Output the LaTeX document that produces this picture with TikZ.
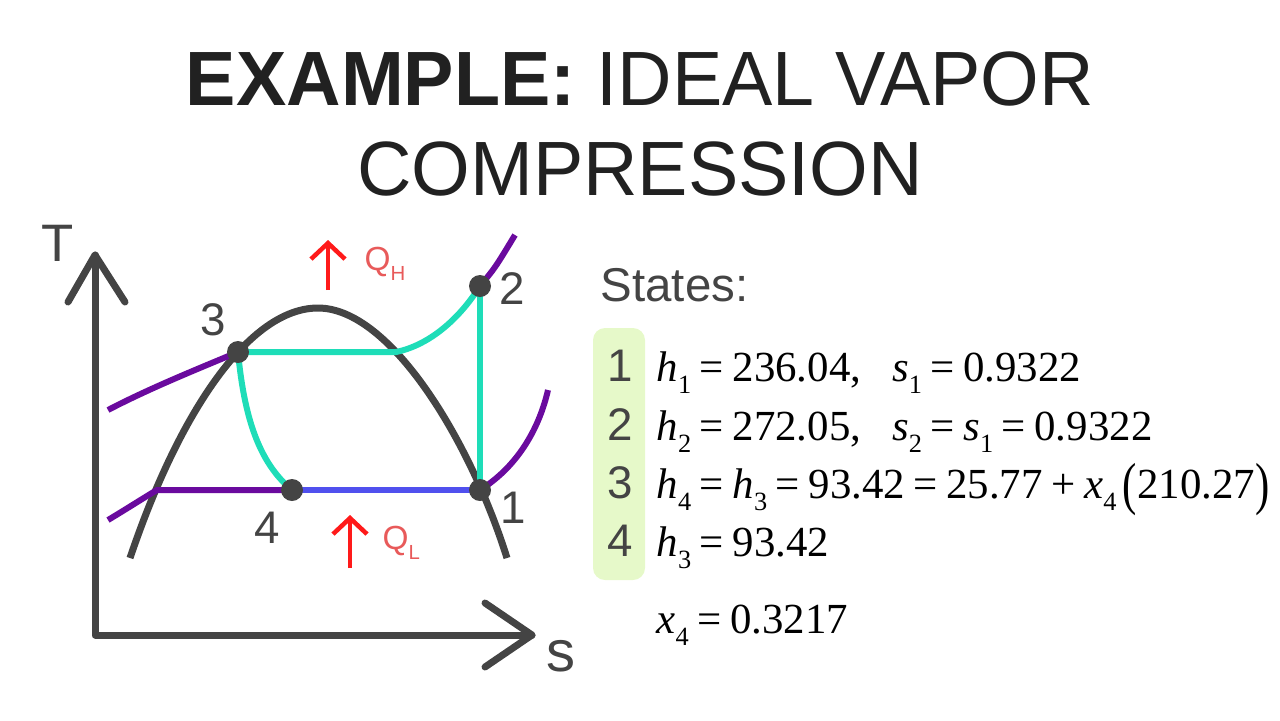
\documentclass[tikz,border=0pt]{standalone}
\usepackage{fontspec}
\usepackage{graphicx}
\setmainfont{Liberation Sans}
\newfontfamily\titlefont[FakeStretch=0.98]{Liberation Sans}
\newfontfamily\eqfont{Liberation Serif}
\usetikzlibrary{arrows.meta}
\definecolor{ink}{HTML}{444444}
\definecolor{teal}{HTML}{1EDDB8}
\definecolor{violet}{HTML}{6A0A9E}
\definecolor{evap}{HTML}{5050EE}
\definecolor{heat}{HTML}{FF1A1A}
\definecolor{heattxt}{HTML}{E85A5A}
\definecolor{boxgreen}{HTML}{E6F9C9}
\newcommand\vr[2]{\textit{#1}\raisebox{-0.3em}{\fontsize{7.5}{9}\selectfont #2}}
\newcommand\eqs{\hspace{0.2em}=\hspace{0.2em}}
\begin{document}
\begin{tikzpicture}[x=0.1mm, y=-0.1mm,
    axis/.style={ink, line width=0.7mm, line cap=round, line join=round},
    dome/.style={ink, line width=0.7mm},
    proc/.style={line width=0.6mm},
    dot/.style={circle, fill=ink, inner sep=0pt, minimum size=2.2mm},
    statelbl/.style={ink, font=\fontsize{13}{15}\selectfont},
    qarrow/.style={heat, line width=0.45mm, -{Straight Barb[length=1.6mm, width=3.4mm]}},
    qlbl/.style={heattxt, anchor=west, inner sep=0pt, font=\fontsize{9.5}{11}\selectfont},
    eqline/.style={anchor=base west, inner sep=0pt, font=\eqfont\fontsize{12.2}{15}\selectfont}]
    \useasboundingbox (0,0) rectangle (1280,720);

    % title
    \node[anchor=base, text=black!87] (title1) at (640,105)
        {\titlefont\fontsize{21.9}{26}\selectfont\bfseries EXAMPLE:\mdseries{} IDEAL VAPOR};
    \node[anchor=base, text=black!87] (title2) at (640,195)
        {\titlefont\fontsize{21.9}{26}\selectfont COMPRESSION};

    % axes
    \draw[axis] (95,255) -- (95,635) -- (532,635);
    \draw[axis] (68,302) -- (95,255) -- (125,302);
    \draw[axis] (485,603) -- (532,635) -- (485,667);
    \node[ink, font=\fontsize{15}{17}\selectfont] (Tlbl) at (58,243) {T};
    \node[ink, font=\fontsize{16.5}{18}\selectfont] (slbl) at (561,656) {s};

    % states
    \coordinate (p1) at (480,490);
    \coordinate (p2) at (480,286);
    \coordinate (p3) at (238,352);
    \coordinate (p4) at (292,490);
    \coordinate (sat) at (396,352);

    % saturation dome
    \draw[dome] (130,558) .. controls (180,410) and (250,308) .. (318,308)
        .. controls (390,308) and (470,440) .. (507,558);

    % isobars
    \draw[proc, violet] (108,410) .. controls (150,388) and (200,368) .. (p3);
    \draw[proc, violet] (p2) .. controls (495,268) .. (515,235);
    \draw[proc, violet] (p1) .. controls (520,465) and (540,425) .. (548,390);
    \draw[proc, violet] (108,520) .. controls (128,508) and (145,497) .. (157,490) -- (p4);

    % cycle
    \draw[proc, evap] (p4) -- (p1);
    \draw[proc, teal] (p3) -- (sat) .. controls (430,345) and (460,318) .. (p2);
    \draw[proc, teal] (p2) -- (p1);
    \draw[proc, teal] (p3) .. controls (244,415) and (258,462) .. (p4);

    \foreach \p in {p1,p2,p3,p4}
        \node[dot] (d\p) at (\p) {};

    \node[statelbl] (l1) at (513,508) {1};
    \node[statelbl] (l2) at (512,289) {2};
    \node[statelbl] (l3) at (213,320) {3};
    \node[statelbl] (l4) at (267,528) {4};

    % heat
    \coordinate (qh0) at (328,290);
    \coordinate (qh1) at (328,240);
    \coordinate (ql0) at (350,568);
    \coordinate (ql1) at (350,515);
    \draw[qarrow] (qh0) -- (qh1);
    \draw[qarrow] (ql0) -- (ql1);
    \node[qlbl] (QH) at (364,264)
        {Q\raisebox{-0.3em}{\fontsize{5.8}{7}\selectfont H}};
    \node[qlbl] (QL) at (382,543)
        {Q\raisebox{-0.3em}{\fontsize{5.8}{7}\selectfont L}};

    % state list
    \node[ink, anchor=west, inner sep=0pt, font=\fontsize{13.5}{15}\selectfont] (states) at (600,285) {States:};
    \fill[boxgreen, rounded corners=1.2mm] (593,328) rectangle (645,580);
    \foreach \n/\y in {1/381,2/440,3/498,4/556}
        \node[ink, anchor=base, font=\fontsize{13}{15}\selectfont] (n\n) at (620,\y) {\n};

    \node[eqline] (e1) at (656,381)
        {\vr{h}{1}\eqs236.04,\hspace{0.72em}\vr{s}{1}\eqs0.9322};
    \node[eqline] (e2) at (656,440)
        {\vr{h}{2}\eqs272.05,\hspace{0.72em}\vr{s}{2}\eqs\vr{s}{1}\eqs0.9322};
    \node[eqline] (e3) at (656,498)
        {\vr{h}{4}\eqs\vr{h}{3}\eqs93.42\eqs25.77\hspace{0.2em}+\hspace{0.2em}\vr{x}{4}\hspace{0.15em}\raisebox{-0.12em}{\scalebox{1}[1.35]{(}}210.27\raisebox{-0.12em}{\scalebox{1}[1.35]{)}}};
    \node[eqline] (e4) at (656,556)
        {\vr{h}{3}\eqs93.42};
    \node[eqline] (x4) at (656,633)
        {\vr{x}{4}\eqs0.3217};
\end{tikzpicture}
\end{document}
